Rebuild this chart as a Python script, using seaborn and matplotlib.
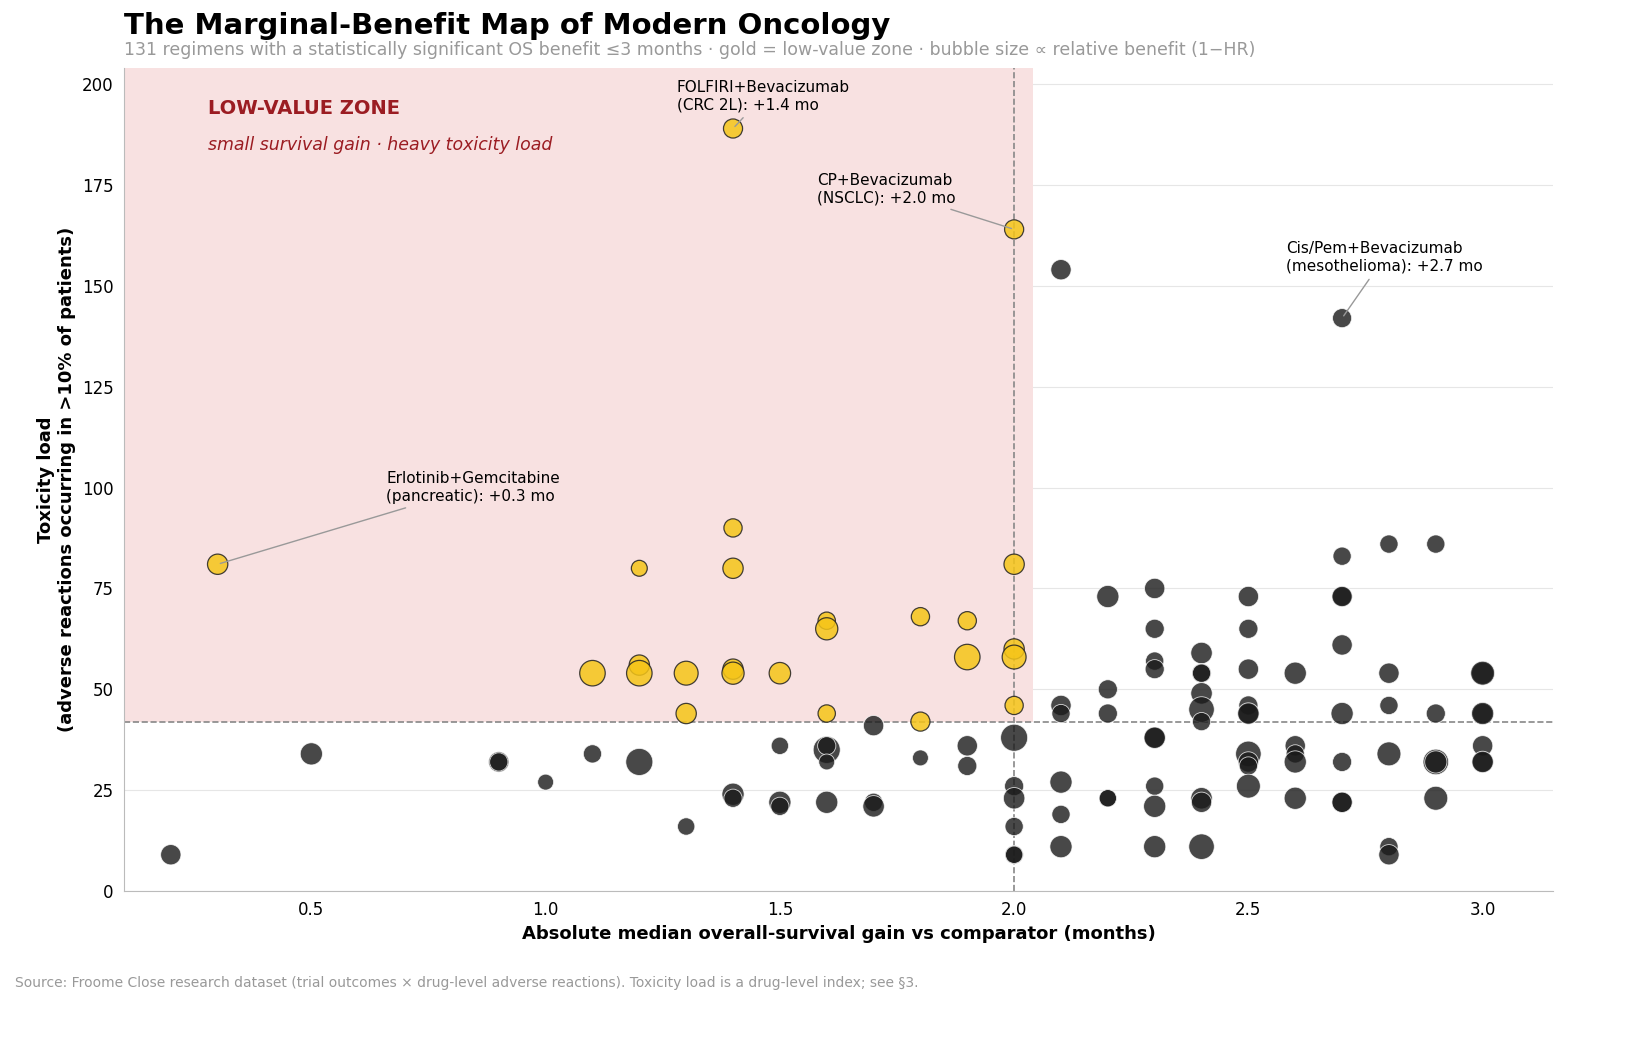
import matplotlib
matplotlib.use("Agg")
import matplotlib.pyplot as plt
import seaborn as sns
import pandas as pd
from matplotlib.patches import Rectangle

sns.set_style("white")
plt.rcParams['font.family'] = ['DejaVu Sans']
plt.rcParams['text.color'] = 'black'
plt.rcParams['axes.labelcolor'] = 'black'
plt.rcParams['xtick.color'] = 'black'
plt.rcParams['ytick.color'] = 'black'

gold_x = [0.3,1.2,1.4,1.4,1.4,2.0,1.1,1.2,1.2,1.3,1.3,1.4,1.4,1.5,1.6,1.6,1.6,1.8,1.8,1.9,1.9,2.0,2.0,2.0,2.0]
gold_y = [81,80,90,80,189,164,54,56,54,54,44,55,54,54,67,65,44,68,42,67,58,81,60,58,46]
gold_b = [0.25,0.15,0.2,0.25,0.22,0.22,0.4,0.25,0.4,0.35,0.25,0.25,0.3,0.28,0.18,0.3,0.18,0.2,0.22,0.2,0.4,0.25,0.25,0.35,0.2]

dark_x = [0.2,0.5,0.9,0.9,1.0,1.1,1.2,1.3,1.4,1.4,1.5,1.5,1.5,1.6,1.6,1.6,1.6,1.7,1.7,1.7,1.8,1.9,1.9,2.0,2.0,2.0,2.0,2.0,2.0,
          2.1,2.1,2.1,2.1,2.1,2.1,2.2,2.2,2.2,2.2,2.2,2.3,2.3,2.3,2.3,2.3,2.3,2.3,2.3,2.3,
          2.4,2.4,2.4,2.4,2.4,2.4,2.4,2.4,2.4,2.5,2.5,2.5,2.5,2.5,2.5,2.5,2.5,2.5,2.5,
          2.6,2.6,2.6,2.6,2.6,2.7,2.7,2.7,2.7,2.7,2.7,2.7,2.7,2.7,2.8,2.8,2.8,2.8,2.8,2.8,
          2.9,2.9,2.9,2.9,2.9,3.0,3.0,3.0,3.0,3.0,3.0,3.0]
dark_y = [9,34,32,32,27,34,32,16,24,23,36,22,21,35,36,32,22,41,22,21,33,36,31,38,26,23,16,9,9,
          154,46,44,27,19,11,73,50,44,23,23,75,65,57,55,38,38,26,21,11,
          59,54,54,49,45,42,23,22,11,73,65,55,46,44,44,34,32,31,26,
          54,36,34,32,23,142,83,73,73,61,44,32,22,22,86,54,46,34,11,9,
          86,44,32,32,23,54,54,44,44,36,32,32]
dark_b = [0.25,0.3,0.25,0.2,0.15,0.2,0.45,0.18,0.3,0.2,0.18,0.3,0.2,0.45,0.2,0.15,0.3,0.25,0.2,0.28,0.15,0.25,0.22,0.45,0.22,0.28,0.2,0.2,0.18,
          0.25,0.25,0.2,0.3,0.2,0.3,0.3,0.22,0.22,0.18,0.18,0.25,0.22,0.2,0.22,0.25,0.28,0.2,0.3,0.3,
          0.28,0.22,0.2,0.28,0.4,0.2,0.28,0.25,0.4,0.25,0.22,0.25,0.22,0.25,0.28,0.4,0.25,0.2,0.35,
          0.3,0.25,0.2,0.3,0.3,0.22,0.2,0.22,0.25,0.25,0.3,0.22,0.25,0.25,0.2,0.25,0.2,0.35,0.2,0.25,
          0.2,0.22,0.4,0.3,0.35,0.3,0.35,0.25,0.3,0.25,0.25,0.28]

gold = pd.DataFrame({"x": gold_x, "y": gold_y, "b": gold_b})
dark = pd.DataFrame({"x": dark_x, "y": dark_y, "b": dark_b})

fig = plt.figure(figsize=(16.44, 10.54), dpi=100)
ax = fig.add_axes([0.0754, 0.1546, 0.8692, 0.7809])
ax.set_axisbelow(True)
ax.yaxis.grid(True, color="#e6e6e6", zorder=0)
ax.add_patch(Rectangle((0.1, 42), 1.94, 170, color="#f8e1e1", zorder=1, lw=0))
ax.axvline(2.0, ls="--", color="#888", lw=1.2, zorder=2)
ax.axhline(42, ls="--", color="#888", lw=1.2, zorder=2)

sns.scatterplot(data=dark, x="x", y="y", size="b", sizes=(90, 420), size_norm=(0.1, 0.5),
                color="#1a1a1a", alpha=0.8, edgecolor="white", linewidth=0.6, legend=False, ax=ax, zorder=3)
sns.scatterplot(data=gold, x="x", y="y", size="b", sizes=(90, 420), size_norm=(0.1, 0.5),
                color="#f5c518", alpha=0.85, edgecolor="#222", linewidth=0.9, legend=False, ax=ax, zorder=4)

ax.set_xlim(0.1, 3.15)
ax.set_ylim(0, 204)
ax.set_xticks([0.5, 1.0, 1.5, 2.0, 2.5, 3.0])
ax.set_yticks(range(0, 201, 25))
ax.tick_params(labelsize=12, length=4, color="#aaa", labelcolor="black")
for s in ["top", "right"]:
    ax.spines[s].set_visible(False)
for s in ["left", "bottom"]:
    ax.spines[s].set_color("#bbb")
ax.set_xlabel("Absolute median overall-survival gain vs comparator (months)", fontsize=13, fontweight="bold", color="black")
ax.set_ylabel("Toxicity load\n(adverse reactions occurring in >10% of patients)", fontsize=13, fontweight="bold", color="black")

ax.text(0.28, 194, "LOW-VALUE ZONE", color="#9b1c22", fontsize=14, fontweight="bold", va="center")
ax.text(0.28, 185, "small survival gain · heavy toxicity load", color="#9b1c22", fontsize=12.5, style="italic", va="center")

ann = [("FOLFIRI+Bevacizumab\n(CRC 2L): +1.4 mo", (1.4, 189), (1.28, 197)),
       ("CP+Bevacizumab\n(NSCLC): +2.0 mo", (2.0, 164), (1.58, 174)),
       ("Cis/Pem+Bevacizumab\n(mesothelioma): +2.7 mo", (2.7, 142), (2.58, 157)),
       ("Erlotinib+Gemcitabine\n(pancreatic): +0.3 mo", (0.3, 81), (0.66, 100))]
for t, xy, xyt in ann:
    ax.annotate(t, xy=xy, xytext=xyt, fontsize=11, va="center", color="black",
                arrowprops=dict(arrowstyle="-", color="#999", lw=1), zorder=5)

fig.text(0.0754, 0.975, "The Marginal-Benefit Map of Modern Oncology", fontsize=21, fontweight="bold", va="center", color="black")
fig.text(0.0754, 0.953, "131 regimens with a statistically significant OS benefit ≤3 months · gold = low-value zone · bubble size ∝ relative benefit (1−HR)",
         fontsize=12.5, color="#999", va="center")
fig.text(0.009, 0.067, "Source: Froome Close research dataset (trial outcomes × drug-level adverse reactions). Toxicity load is a drug-level index; see §3.",
         fontsize=10, color="#999", va="center")
fig.savefig("out.png", dpi=100)
